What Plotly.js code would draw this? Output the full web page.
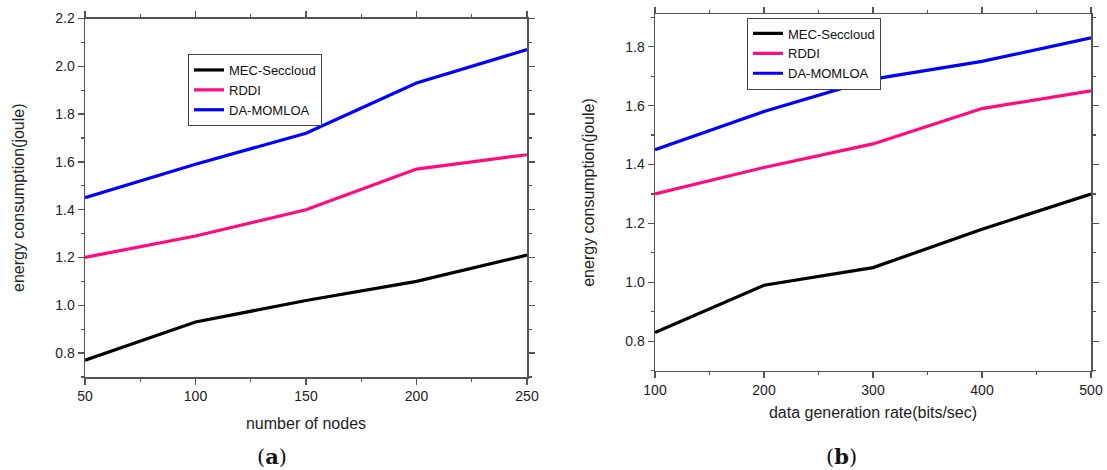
<!DOCTYPE html>
<html>
<head>
<meta charset="utf-8">
<script src="https://cdn.plot.ly/plotly-3.0.1.min.js"></script>
<style>html,body{margin:0;padding:0;background:#fff;}#chart{width:1107px;height:470px;}</style>
</head>
<body>
<div id="chart"></div>
<script>
// Panel (a): number of nodes
const nodes = [50, 100, 150, 200, 250];
const mecA = [0.77, 0.93, 1.02, 1.10, 1.21];
const rddiA = [1.20, 1.29, 1.40, 1.57, 1.63];
const daA = [1.45, 1.59, 1.72, 1.93, 2.07];
// Panel (b): data generation rate
const rates = [100, 200, 300, 400, 500];
const mecB = [0.83, 0.99, 1.05, 1.18, 1.30];
const rddiB = [1.30, 1.39, 1.47, 1.59, 1.65];
const daB = [1.45, 1.58, 1.69, 1.75, 1.83];

const names = ['MEC-Seccloud', 'RDDI', 'DA-MOMLOA'];
const colors = ['#000000', '#ff0a80', '#0000ff'];

function tr(x, y, i, ax, leg) {
  return {x: x, y: y, name: names[i], type: 'scatter', mode: 'lines',
    line: {color: colors[i], width: 3.2},
    xaxis: ax[0], yaxis: ax[1], legend: leg};
}
const data = [
  tr(nodes, mecA, 0, ['x', 'y'], 'legend'),
  tr(nodes, rddiA, 1, ['x', 'y'], 'legend'),
  tr(nodes, daA, 2, ['x', 'y'], 'legend'),
  tr(rates, mecB, 0, ['x2', 'y2'], 'legend2'),
  tr(rates, rddiB, 1, ['x2', 'y2'], 'legend2'),
  tr(rates, daB, 2, ['x2', 'y2'], 'legend2')
];

const W = 1107, H = 470;
const fx = p => p / W, fy = p => 1 - p / H;
const font = "'Liberation Sans', Arial, sans-serif";
const axBase = {
  showline: true, linecolor: '#555', linewidth: 1.5, mirror: 'ticks',
  ticks: 'outside', ticklen: 6, tickwidth: 1.3, tickcolor: '#555',
  showgrid: false, zeroline: false,
  tickfont: {family: font, size: 14, color: '#222'}
};
function ax(extra) { return Object.assign({}, axBase, extra); }
const titleFont = {family: font, size: 16, color: '#222'};

const layout = {
  width: W, height: H,
  margin: {l: 0, r: 0, t: 0, b: 0},
  paper_bgcolor: '#fff', plot_bgcolor: '#fff',
  font: {family: font, color: '#222'},
  xaxis: ax({domain: [fx(85), fx(527)], range: [50, 250], dtick: 50, tick0: 50,
    minor: {ticks: 'outside', ticklen: 3, dtick: 25, tickcolor: '#555', tickwidth: 1.2},
    anchor: 'y',
    title: {text: 'number of nodes', font: titleFont, standoff: 14}}),
  yaxis: ax({domain: [fy(377), fy(18.5)], range: [0.7, 2.2], dtick: 0.2, tick0: 0.8, tickformat: '.1f',
    minor: {ticks: 'outside', ticklen: 3, dtick: 0.1, tickcolor: '#555', tickwidth: 1.2},
    anchor: 'x',
    title: {text: 'energy consumption(joule)', font: titleFont, standoff: 26}}),
  xaxis2: ax({domain: [fx(655), fx(1091)], range: [100, 500], dtick: 100, tick0: 100,
    minor: {ticks: 'outside', ticklen: 3, dtick: 50, tickcolor: '#555', tickwidth: 1.2},
    anchor: 'y2',
    title: {text: 'data generation rate(bits/sec)', font: titleFont, standoff: 10}}),
  yaxis2: ax({domain: [fy(370.7), fy(14.3)], range: [0.7, 1.91], dtick: 0.2, tick0: 0.8, tickformat: '.1f',
    minor: {ticks: 'outside', ticklen: 3, dtick: 0.1, tickcolor: '#555', tickwidth: 1.2},
    anchor: 'x2',
    title: {text: 'energy consumption(joule)', font: titleFont, standoff: 26}}),
  legend: {x: fx(188), y: fy(54), xanchor: 'left', yanchor: 'top',
    bgcolor: '#fff', bordercolor: '#444', borderwidth: 1,
    font: {family: font, size: 13, color: '#111'}, itemwidth: 30, tracegroupgap: 0},
  legend2: {x: fx(747), y: fy(17.5), xanchor: 'left', yanchor: 'top',
    bgcolor: '#fff', bordercolor: '#444', borderwidth: 1,
    font: {family: font, size: 13, color: '#111'}, itemwidth: 30, tracegroupgap: 0},
  annotations: [
    {text: '(<b>a</b>)', x: fx(272), y: fy(456), xref: 'paper', yref: 'paper', showarrow: false,
      xanchor: 'center', yanchor: 'middle', font: {family: "'DejaVu Serif', 'Liberation Serif', serif", size: 21, color: '#111'}},
    {text: '(<b>b</b>)', x: fx(841), y: fy(456), xref: 'paper', yref: 'paper', showarrow: false,
      xanchor: 'center', yanchor: 'middle', font: {family: "'DejaVu Serif', 'Liberation Serif', serif", size: 21, color: '#111'}}
  ],
  showlegend: true
};

Plotly.newPlot('chart', data, layout, {staticPlot: true, displayModeBar: false});
</script>
</body>
</html>
